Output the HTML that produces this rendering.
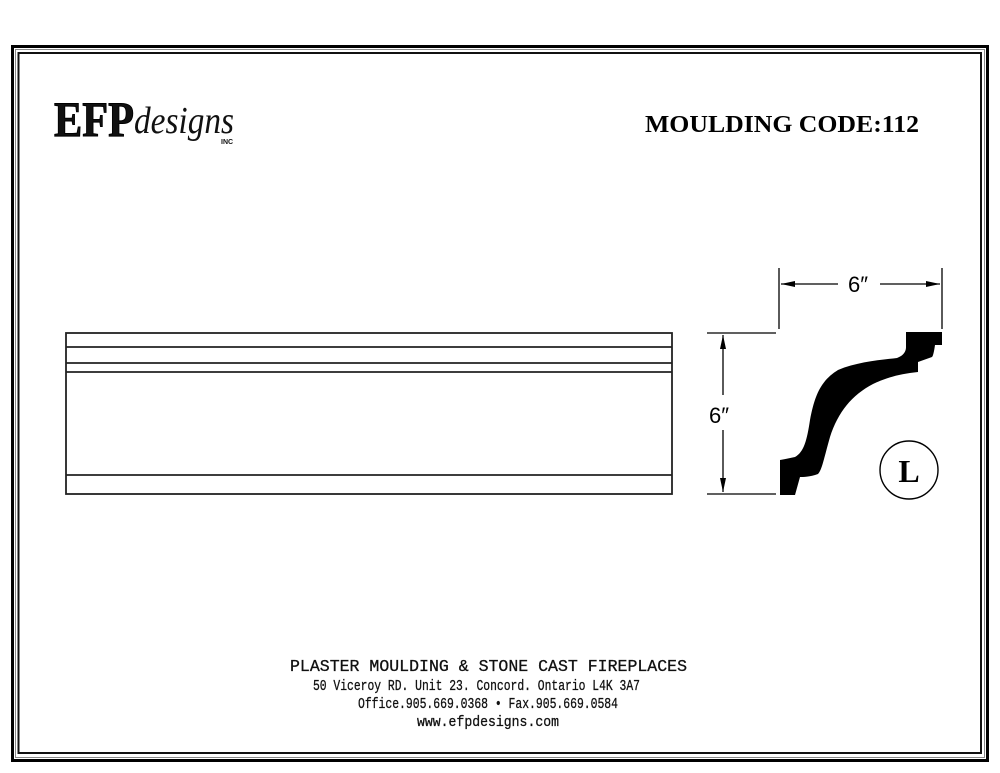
<!DOCTYPE html>
<html><head><meta charset="utf-8"><style>
html,body{margin:0;padding:0;background:#fff;}
svg{display:block;}
</style></head><body>
<svg width="1000" height="773" viewBox="0 0 1000 773" xmlns="http://www.w3.org/2000/svg">
<rect x="0" y="0" width="1000" height="773" fill="#fff"/>
<rect x="12.5" y="46.5" width="975" height="714" fill="none" stroke="#000" stroke-width="3"/>
<rect x="15.5" y="49.5" width="969" height="708" fill="none" stroke="#888" stroke-width="1"/>
<rect x="18.5" y="53" width="962.5" height="700" fill="none" stroke="#111" stroke-width="2"/>
<text x="54" y="136" font-family="Liberation Serif, serif" font-weight="bold" font-size="50" fill="#111" stroke="#000" stroke-width="1" textLength="80" lengthAdjust="spacingAndGlyphs">EFP</text>
<text x="134" y="133" font-family="Liberation Serif, serif" font-style="italic" font-size="38" fill="#111" textLength="100" lengthAdjust="spacingAndGlyphs">designs</text>
<text x="221" y="144" font-family="Liberation Sans, sans-serif" font-weight="bold" font-size="7" fill="#111">INC</text>
<text x="645" y="132" font-family="Liberation Serif, serif" font-weight="bold" font-size="24" fill="#000" textLength="274" lengthAdjust="spacingAndGlyphs">MOULDING CODE:112</text>
<g stroke="#222" stroke-width="1.8" fill="none">
<rect x="66" y="333" width="606" height="161"/>
<line x1="66" y1="347" x2="672" y2="347"/>
<line x1="66" y1="363" x2="672" y2="363"/>
<line x1="66" y1="372" x2="672" y2="372"/>
<line x1="66" y1="475" x2="672" y2="475"/>
</g>
<g stroke="#000" stroke-width="1.3" fill="none">
<line x1="779" y1="268" x2="779" y2="329"/>
<line x1="942" y1="268" x2="942" y2="329"/>
<line x1="781" y1="284" x2="838" y2="284"/>
<line x1="880" y1="284" x2="940" y2="284"/>
<line x1="707" y1="333" x2="776" y2="333"/>
<line x1="707" y1="494" x2="776" y2="494"/>
<line x1="723" y1="335" x2="723" y2="395"/>
<line x1="723" y1="430" x2="723" y2="492"/>
</g>
<g fill="#000">
<polygon points="781,284 795,281 795,287"/>
<polygon points="940,284 926,281 926,287"/>
<polygon points="723,335 720,349 726,349"/>
<polygon points="723,492 720,478 726,478"/>
</g>
<text x="848" y="292" font-family="Liberation Sans, sans-serif" font-size="22" fill="#000">6″</text>
<text x="709" y="423" font-family="Liberation Sans, sans-serif" font-size="22" fill="#000">6″</text>
<path d="M906,332 L942,332 L942,345 L935,345 C934,352 933,356 932,357 L918,362 L918,372 C900,374 888,377 873,384 C852,395 838,412 830,437 C824,458 822,470 818,474 C810,477 803,477 800,477 L795,495 L780,495 L780,460 C786,459 790,458 795,457 C804,452 807,440 810,420 C815,393 822,380 838,370 C857,362 880,360 897,358 C905,355 906,350 906,347 Z" fill="#000"/>
<circle cx="909" cy="470" r="29" fill="none" stroke="#000" stroke-width="1.4"/>
<text x="909" y="482" text-anchor="middle" font-family="Liberation Serif, serif" font-weight="bold" font-size="32" fill="#000">L</text>
<g font-family="Liberation Mono, monospace" fill="#111" stroke="#111" stroke-width="0.3">
<text x="290" y="671" font-size="17" textLength="397" lengthAdjust="spacingAndGlyphs">PLASTER MOULDING &amp; STONE CAST FIREPLACES</text>
<text x="313" y="690" font-size="15" textLength="327" lengthAdjust="spacingAndGlyphs">50 Viceroy RD. Unit 23. Concord.  Ontario  L4K 3A7</text>
<text x="358" y="708" font-size="15" textLength="260" lengthAdjust="spacingAndGlyphs">Office.905.669.0368 • Fax.905.669.0584</text>
<text x="417" y="726" font-size="15" textLength="142" lengthAdjust="spacingAndGlyphs">www.efpdesigns.com</text>
</g>
</svg>
</body></html>
